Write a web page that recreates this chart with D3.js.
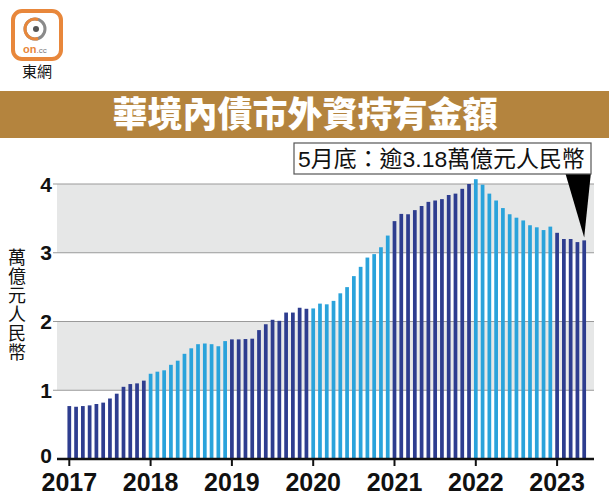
<!DOCTYPE html>
<html><head><meta charset="utf-8">
<script src="https://cdn.jsdelivr.net/npm/d3@7"></script>
<style>
html,body{margin:0;padding:0;background:#fff;}
svg{display:block;}
</style></head>
<body>
<svg id="c" width="609" height="497"></svg>
<script>
// ---- data ----
const years = ["2017","2018","2019","2020","2021","2022","2023"];
const v2017 = [0.77,0.76,0.77,0.78,0.80,0.82,0.88,0.95,1.05,1.09,1.10,1.14];
const v2018 = [1.24,1.27,1.29,1.37,1.43,1.53,1.61,1.67,1.68,1.67,1.64,1.715];
const v2019 = [1.74,1.74,1.745,1.75,1.875,1.96,2.025,2.01,2.13,2.13,2.20,2.185];
const v2020 = [2.19,2.26,2.25,2.30,2.41,2.50,2.66,2.795,2.93,2.98,3.08,3.25];
const v2021 = [3.46,3.565,3.56,3.62,3.68,3.74,3.76,3.78,3.84,3.86,3.93,4.00];
const v2022 = [4.07,3.99,3.86,3.76,3.65,3.56,3.51,3.47,3.40,3.37,3.33,3.38];
const v2023 = [3.29,3.20,3.20,3.155,3.18];
const yTicks = [0,1,2,3,4];
const title = "華境內債市外資持有金額";
const yLabel = "萬億元人民幣";
const note = "5月底：逾3.18萬億元人民幣";

const series = [v2017,v2018,v2019,v2020,v2021,v2022,v2023];
const data = [];
series.forEach((arr, yi) => arr.forEach((v, m) => data.push({key: years[yi] + "-" + (m+1), year: yi, month: m, value: v})));

const svg = d3.select("#c");
const cjk = "'Noto Sans CJK TC','Noto Sans CJK SC',sans-serif";
const num = "'Liberation Sans',Arial,sans-serif";

// ---- logo ----
const logo = svg.append("g");
logo.append("rect").attr("x",13).attr("y",11).attr("width",48).attr("height",48).attr("rx",9)
  .attr("fill","#fff").attr("stroke","#E8873B").attr("stroke-width",4);
logo.append("circle").attr("cx",35).attr("cy",29).attr("r",10).attr("fill","none")
  .attr("stroke","#8a8a8a").attr("stroke-width",3);
logo.append("path").attr("d",d3.arc()({innerRadius:8.5,outerRadius:11.5,startAngle:Math.PI*0.9,endAngle:Math.PI*2.1}))
  .attr("transform","translate(35,29)").attr("fill","#E8873B");
logo.append("circle").attr("cx",36).attr("cy",29).attr("r",3).attr("fill","#555");
logo.append("text").attr("x",23).attr("y",53).attr("font-family",num).attr("font-weight","bold")
  .attr("font-size",11).attr("fill","#E8873B").text("on")
  .append("tspan").attr("font-size",8).attr("font-weight","normal").attr("fill","#777").text(".cc");
logo.append("text").attr("x",37).attr("y",77).attr("text-anchor","middle").attr("font-family",cjk)
  .attr("font-size",15).attr("fill","#111").text("東網");

// ---- title banner ----
svg.append("rect").attr("x",0).attr("y",91).attr("width",609).attr("height",47).attr("fill","#B4843E");
svg.append("text").attr("x",305).attr("y",127).attr("text-anchor","middle").attr("font-family",cjk)
  .attr("font-weight",900).attr("font-size",35).attr("fill","#fff").text(title);

// ---- scales ----
const step = 6.775, x0 = 69.3 - step/2;
const x = d3.scaleBand().domain(data.map(d=>d.key)).range([x0, x0 + step*data.length])
  .paddingInner(0.45).paddingOuter(0.225);
const y = d3.scaleLinear().domain([0,4]).range([459,184]);
const plotL = 57, plotR = 594;

// bands
for (let i = 0; i < yTicks.length-1; i++) {
  if (i % 2 === 1) {
    svg.append("rect").attr("x",plotL).attr("y",y(yTicks[i+1])).attr("width",plotR-plotL)
      .attr("height",y(yTicks[i])-y(yTicks[i+1])).attr("fill","#E6E7E7");
  }
}
// grid lines
svg.append("g").selectAll("line").data(yTicks.filter(t=>t>0)).join("line")
  .attr("x1",plotL-4).attr("x2",plotR).attr("y1",d=>y(d)).attr("y2",d=>y(d))
  .attr("stroke","#9a9a9a").attr("stroke-width",1.2);

// bars
svg.append("g").selectAll("rect").data(data).join("rect")
  .attr("x",d=>x(d.key)).attr("width",x.bandwidth())
  .attr("y",d=>y(d.value)).attr("height",d=>y(0)-y(d.value))
  .attr("fill",d=>d.year%2===0 ? "#2E3D8F" : "#2AA3DB");

// y tick labels
svg.append("g").selectAll("text").data(yTicks).join("text")
  .attr("x",52).attr("y",d=>y(d) + (d === 0 ? 4 : 7.5)).attr("text-anchor","end")
  .attr("font-family",num).attr("font-weight","bold").attr("font-size",21).attr("fill","#111")
  .text(d=>d);

// x axis baseline and ticks
svg.append("line").attr("x1",plotL).attr("x2",plotR).attr("y1",y(0)).attr("y2",y(0))
  .attr("stroke","#111").attr("stroke-width",2.5);
const yearPos = years.map((yr,i)=>({yr, cx: x(yr+"-1") + x.bandwidth()/2}));
svg.append("g").selectAll("line").data(yearPos).join("line")
  .attr("x1",d=>d.cx).attr("x2",d=>d.cx).attr("y1",y(0)).attr("y2",y(0)+7)
  .attr("stroke","#111").attr("stroke-width",2);
svg.append("g").selectAll("text").data(yearPos).join("text")
  .attr("x",d=>d.cx).attr("y",491).attr("text-anchor","middle")
  .attr("font-family",num).attr("font-weight","bold").attr("font-size",25).attr("fill","#111")
  .text(d=>d.yr);

// y axis title (vertical writing mode, single text)
svg.append("text").attr("x",17).attr("y",248)
  .style("writing-mode","vertical-rl").style("letter-spacing","1px")
  .attr("font-family",cjk).attr("font-size",18).attr("fill","#111").text(yLabel);

// annotation
const last = data[data.length-1];
const tipX = x(last.key) + x.bandwidth()/2, tipY = y(last.value) - 3;
svg.append("path").attr("d",`M565,172 L591,172 L${tipX},${tipY} Z`).attr("fill","#000");
svg.append("rect").attr("x",294).attr("y",143).attr("width",297).attr("height",31)
  .attr("fill","#fff").attr("stroke","#555").attr("stroke-width",1.2);
const nt = svg.append("text").attr("x",298).attr("y",167)
  .attr("font-family",num + "," + cjk).attr("font-size",23).attr("fill","#111").text(note);
const w = nt.node().getComputedTextLength();
if (w > 0) nt.attr("font-size", 23 * 287 / w);
</script>
</body></html>
